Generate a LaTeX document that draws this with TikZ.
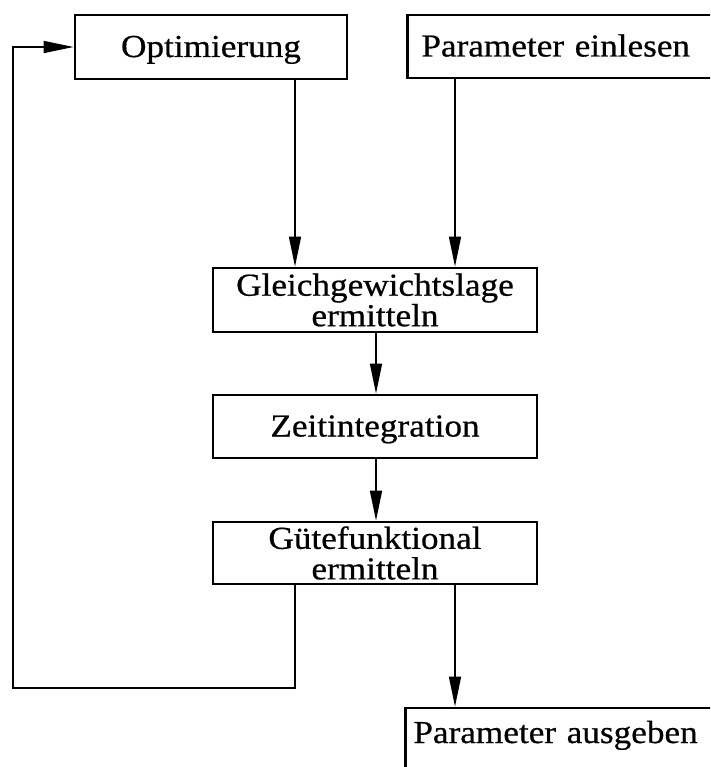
\documentclass[tikz,border=0pt]{standalone}
\usepackage{fontspec}
\setmainfont{Liberation Serif}[FakeStretch=1.1,FakeBold=0.6]
\usetikzlibrary{arrows.meta}
\lineskiplimit=-200pt
\begin{document}
\begin{tikzpicture}[x=1pt,y=-1pt,
  box/.style={draw, line width=2.8pt, inner sep=0pt,
    font=\fontsize{32}{30.5}\selectfont, align=center},
  onebox/.style={box, text height=26pt, text depth=6pt},
  conn/.style={line width=1.6pt, -{Triangle[length=30pt,width=12pt]}},
  plain/.style={line width=1.6pt}]
\useasboundingbox (0,0) rectangle (710,767);
\clip (0,0) rectangle (710,767);
\fill[white] (0,0) rectangle (710,767);
% columns
\coordinate (cA) at (295,0);
\coordinate (cB) at (455,0);
\coordinate (cM) at (376,0);
\coordinate (fbL) at (13,688);
% boxes
\node[onebox, minimum width=272pt, minimum height=64pt] (opt) at (211,47) {Optimierung};
\node[onebox, anchor=west, minimum height=63pt, text width=300pt, align=left,
      inner xsep=14pt] (pin) at (406,46.5) {Parameter einlesen};
\node[box, minimum width=324pt, minimum height=64pt] (gl) at (375,300) {Gleichgewichtslage\\ermitteln};
\node[onebox, minimum width=324pt, minimum height=63pt] (zt) at (375,426.5) {Zeitintegration};
\node[box, minimum width=324pt, minimum height=62pt] (gu) at (375,553) {Gütefunktional\\ermitteln};
\node[box, anchor=base west, text height=24pt, text depth=40pt, inner ysep=11pt,
      inner xsep=8pt, text width=330pt, align=left] (pout) at (404,743) {Parameter ausgeben};
% connectors
\draw[conn] (cA |- opt.south) -- (cA |- gl.north);
\draw[conn] (cB |- pin.south) -- (cB |- gl.north);
\draw[conn] (cM |- gl.south) -- (cM |- zt.north);
\draw[conn] (cM |- zt.south) -- (cM |- gu.north);
\draw[conn] (cB |- gu.south) -- (cB |- pout.north);
\draw[conn] (cA |- gu.south) |- (fbL) |- (opt.west);
\end{tikzpicture}
\end{document}
